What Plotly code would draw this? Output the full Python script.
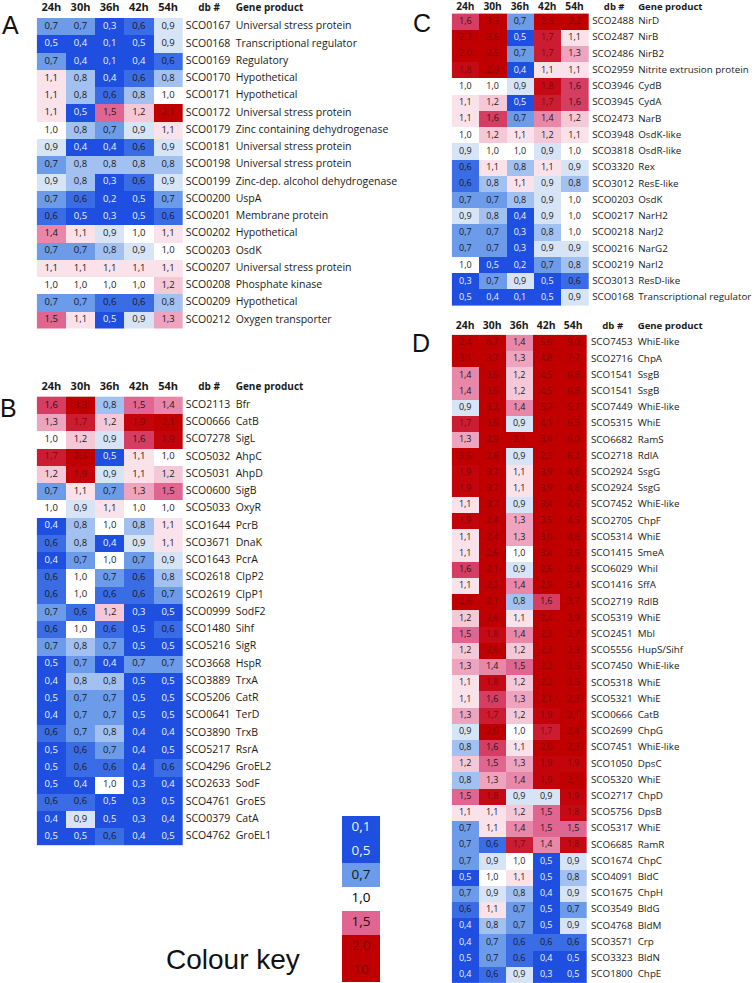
import plotly.graph_objects as go

W, H = 754, 983
HOURS = ["24h", "30h", "36h", "42h", "54h"]

# ---------------- Panel A ----------------
A_ids = ["SCO0167", "SCO0168", "SCO0169", "SCO0170", "SCO0171", "SCO0172", "SCO0179",
         "SCO0181", "SCO0198", "SCO0199", "SCO0200", "SCO0201", "SCO0202", "SCO0203",
         "SCO0207", "SCO0208", "SCO0209", "SCO0212"]
A_products = ["Universal stress protein", "Transcriptional regulator", "Regulatory",
              "Hypothetical", "Hypothetical", "Universal stress protein",
              "Zinc containing dehydrogenase", "Universal stress protein",
              "Universal stress protein", "Zinc-dep. alcohol dehydrogenase", "UspA",
              "Membrane protein", "Hypothetical", "OsdK", "Universal stress protein",
              "Phosphate kinase", "Hypothetical", "Oxygen transporter"]
A_values = [
    [0.7, 0.7, 0.3, 0.6, 0.9],
    [0.5, 0.4, 0.1, 0.5, 0.9],
    [0.7, 0.4, 0.1, 0.4, 0.6],
    [1.1, 0.8, 0.4, 0.6, 0.8],
    [1.1, 0.8, 0.6, 0.8, 1.0],
    [1.1, 0.5, 1.5, 1.2, 2.1],
    [1.0, 0.8, 0.7, 0.9, 1.1],
    [0.9, 0.4, 0.4, 0.6, 0.9],
    [0.7, 0.8, 0.8, 0.8, 0.8],
    [0.9, 0.8, 0.3, 0.6, 0.9],
    [0.7, 0.6, 0.2, 0.5, 0.7],
    [0.6, 0.5, 0.3, 0.5, 0.6],
    [1.4, 1.1, 0.9, 1.0, 1.1],
    [0.7, 0.7, 0.8, 0.9, 1.0],
    [1.1, 1.1, 1.1, 1.1, 1.1],
    [1.0, 1.0, 1.0, 1.0, 1.2],
    [0.7, 0.7, 0.6, 0.6, 0.8],
    [1.5, 1.1, 0.5, 0.9, 1.3],
]

# ---------------- Panel B ----------------
B_ids = ["SCO2113", "SCO0666", "SCO7278", "SCO5032", "SCO5031", "SCO0600", "SCO5033",
         "SCO1644", "SCO3671", "SCO1643", "SCO2618", "SCO2619", "SCO0999", "SCO1480",
         "SCO5216", "SCO3668", "SCO3889", "SCO5206", "SCO0641", "SCO3890", "SCO5217",
         "SCO4296", "SCO2633", "SCO4761", "SCO0379", "SCO4762"]
B_products = ["Bfr", "CatB", "SigL", "AhpC", "AhpD", "SigB", "OxyR", "PcrB", "DnaK",
              "PcrA", "ClpP2", "ClpP1", "SodF2", "Sihf", "SigR", "HspR", "TrxA", "CatR",
              "TerD", "TrxB", "RsrA", "GroEL2", "SodF", "GroES", "CatA", "GroEL1"]
B_values = [
    [1.6, 3.3, 0.8, 1.5, 1.4],
    [1.3, 1.7, 1.2, 1.9, 2.1],
    [1.0, 1.2, 0.9, 1.6, 1.9],
    [1.7, 2.3, 0.5, 1.1, 1.0],
    [1.2, 1.9, 0.9, 1.1, 1.2],
    [0.7, 1.1, 0.7, 1.3, 1.5],
    [1.0, 0.9, 1.1, 1.0, 1.0],
    [0.4, 0.8, 1.0, 0.8, 1.1],
    [0.6, 0.8, 0.4, 0.9, 1.1],
    [0.4, 0.7, 1.0, 0.7, 0.9],
    [0.6, 1.0, 0.7, 0.6, 0.8],
    [0.6, 1.0, 0.6, 0.6, 0.7],
    [0.7, 0.6, 1.2, 0.3, 0.5],
    [0.6, 1.0, 0.6, 0.5, 0.6],
    [0.7, 0.8, 0.7, 0.5, 0.5],
    [0.5, 0.7, 0.4, 0.7, 0.7],
    [0.4, 0.8, 0.8, 0.5, 0.5],
    [0.5, 0.7, 0.7, 0.5, 0.5],
    [0.4, 0.7, 0.7, 0.5, 0.5],
    [0.6, 0.7, 0.8, 0.4, 0.4],
    [0.5, 0.6, 0.7, 0.4, 0.5],
    [0.5, 0.6, 0.6, 0.4, 0.6],
    [0.5, 0.4, 1.0, 0.3, 0.4],
    [0.6, 0.6, 0.5, 0.3, 0.5],
    [0.4, 0.9, 0.5, 0.3, 0.4],
    [0.5, 0.5, 0.6, 0.4, 0.5],
]

# ---------------- Panel C ----------------
C_ids = ["SCO2488", "SCO2487", "SCO2486", "SCO2959", "SCO3946", "SCO3945", "SCO2473",
         "SCO3948", "SCO3818", "SCO3320", "SCO3012", "SCO0203", "SCO0217", "SCO0218",
         "SCO0216", "SCO0219", "SCO3013", "SCO0168"]
C_products = ["NirD", "NirB", "NirB2", "Nitrite extrusion protein", "CydB", "CydA", "NarB",
              "OsdK-like", "OsdR-like", "Rex", "ResE-like", "OsdK", "NarH2", "NarJ2",
              "NarG2", "NarI2", "ResD-like", "Transcriptional regulator"]
C_values = [
    [1.6, 3.3, 0.7, 2.5, 2.2],
    [2.3, 3.6, 0.5, 1.7, 1.1],
    [2.0, 2.5, 0.7, 1.7, 1.3],
    [1.8, 2.9, 0.4, 1.1, 1.1],
    [1.0, 1.0, 0.9, 1.8, 1.6],
    [1.1, 1.2, 0.5, 1.7, 1.6],
    [1.1, 1.6, 0.7, 1.4, 1.2],
    [1.0, 1.2, 1.1, 1.2, 1.1],
    [0.9, 1.0, 1.0, 0.9, 1.0],
    [0.6, 1.1, 0.8, 1.1, 0.9],
    [0.6, 0.8, 1.1, 0.9, 0.8],
    [0.7, 0.7, 0.8, 0.9, 1.0],
    [0.9, 0.8, 0.4, 0.9, 1.0],
    [0.7, 0.7, 0.3, 0.8, 1.0],
    [0.7, 0.7, 0.3, 0.9, 0.9],
    [1.0, 0.5, 0.2, 0.7, 0.8],
    [0.3, 0.7, 0.9, 0.5, 0.6],
    [0.5, 0.4, 0.1, 0.5, 0.9],
]

# ---------------- Panel D ----------------
D_ids = ["SCO7453", "SCO2716", "SCO1541", "SCO1541", "SCO7449", "SCO5315", "SCO6682",
         "SCO2718", "SCO2924", "SCO2924", "SCO7452", "SCO2705", "SCO5314", "SCO1415",
         "SCO6029", "SCO1416", "SCO2719", "SCO5319", "SCO2451", "SCO5556", "SCO7450",
         "SCO5318", "SCO5321", "SCO0666", "SCO2699", "SCO7451", "SCO1050", "SCO5320",
         "SCO2717", "SCO5756", "SCO5317", "SCO6685", "SCO1674", "SCO4091", "SCO1675",
         "SCO3549", "SCO4768", "SCO3571", "SCO3323", "SCO1800"]
D_products = ["WhiE-like", "ChpA", "SsgB", "SsgB", "WhiE-like", "WhiE", "RamS", "RdlA",
              "SsgG", "SsgG", "WhiE-like", "ChpF", "WhiE", "SmeA", "WhiI", "SffA", "RdlB",
              "WhiE", "Mbl", "HupS/Sihf", "WhiE-like", "WhiE", "WhiE", "CatB", "ChpG",
              "WhiE-like", "DpsC", "WhiE", "ChpD", "DpsB", "WhiE", "RamR", "ChpC", "BldC",
              "ChpH", "BldG", "BldM", "Crp", "BldN", "ChpE"]
D_values = [
    [2.4, 6.7, 1.4, 5.9, 9.0],
    [3.1, 3.7, 1.3, 4.8, 7.7],
    [1.4, 3.5, 1.2, 4.5, 6.8],
    [1.4, 3.5, 1.2, 4.5, 6.8],
    [0.9, 3.2, 1.4, 5.7, 5.7],
    [1.7, 3.5, 0.9, 4.1, 6.5],
    [1.3, 2.9, 2.1, 3.4, 6.0],
    [3.6, 2.6, 0.9, 2.3, 6.2],
    [1.9, 3.7, 1.1, 3.9, 4.8],
    [1.9, 3.7, 1.1, 3.9, 4.8],
    [1.1, 3.7, 0.9, 3.4, 4.6],
    [1.9, 2.4, 1.3, 3.5, 4.5],
    [1.1, 2.4, 1.3, 3.0, 4.8],
    [1.1, 2.6, 1.0, 3.4, 3.5],
    [1.6, 2.1, 0.9, 2.6, 3.8],
    [1.1, 2.2, 1.4, 2.9, 3.4],
    [2.6, 2.1, 0.8, 1.6, 3.7],
    [1.2, 2.6, 1.1, 2.4, 2.9],
    [1.5, 1.8, 1.4, 2.3, 2.7],
    [1.2, 2.6, 1.2, 2.3, 2.3],
    [1.3, 1.4, 1.5, 2.2, 2.5],
    [1.1, 1.8, 1.2, 2.2, 2.5],
    [1.1, 1.6, 1.3, 2.1, 2.3],
    [1.3, 1.7, 1.2, 1.9, 2.1],
    [0.9, 2.0, 1.0, 1.7, 2.4],
    [0.8, 1.6, 1.1, 2.0, 2.3],
    [1.2, 1.5, 1.3, 1.9, 1.9],
    [0.8, 1.3, 1.4, 1.9, 2.1],
    [1.5, 1.8, 0.9, 0.9, 1.9],
    [1.1, 1.1, 1.2, 1.5, 1.8],
    [0.7, 1.1, 1.4, 1.5, 1.5],
    [0.7, 0.6, 1.7, 1.4, 1.8],
    [0.7, 0.9, 1.0, 0.5, 0.9],
    [0.5, 1.0, 1.1, 0.5, 0.8],
    [0.7, 0.9, 0.8, 0.4, 0.9],
    [0.6, 1.1, 0.7, 0.5, 0.7],
    [0.4, 0.8, 0.7, 0.5, 0.9],
    [0.4, 0.7, 0.6, 0.6, 0.6],
    [0.5, 0.7, 0.6, 0.4, 0.5],
    [0.4, 0.6, 0.9, 0.3, 0.5],
]

# ---------------- Colour key ----------------
KEY_VALUES = [0.1, 0.5, 0.7, 1.0, 1.5, 2.0, 10]

# ---------------- styling ----------------
FONT = "Open Sans"
ZMAX = 10.0
COLORSCALE = [
    [0.00, "#1e4fe0"], [0.05, "#1e4fe0"], [0.06, "#3a6ce6"], [0.07, "#6c9be9"],
    [0.08, "#a3c1f0"], [0.09, "#d6e4f6"], [0.10, "#ffffff"], [0.11, "#fae2ea"],
    [0.12, "#f5c8d7"], [0.13, "#eea4be"], [0.14, "#e887a8"], [0.15, "#e06590"],
    [0.16, "#d63d62"], [0.17, "#cc1c32"], [0.18, "#c50a16"], [0.20, "#c00000"],
    [1.00, "#c00000"],
]


def fmt(v):
    return str(int(v)) if v >= 10 else f"{v:.1f}".replace(".", ",")


def txt_color(v):
    if v <= 0.5:
        return "#eef2ff"
    if v >= 1.7:
        return "#7a0b0b"
    return "#1a1a1a"


fig = go.Figure()
layout = {}


def axis_names(k):
    return ("x" if k == 1 else f"x{k}", "y" if k == 1 else f"y{k}",
            "xaxis" if k == 1 else f"xaxis{k}", "yaxis" if k == 1 else f"yaxis{k}")


def add_panel(k, ids, products, values, left, top, cw, rh, right_px, cell_fs, lab_fs, head_fs,
              gp_fs, id_off, db_off, prod_off, head_px):
    xa, ya, xk, yk = axis_names(k)
    n = len(ids)
    rows = list(range(n))
    head_y = (head_px - top) / rh - 0.5
    fig.add_trace(go.Heatmap(z=values, x=list(range(5)), y=rows, colorscale=COLORSCALE,
                             zmin=0, zmax=ZMAX, showscale=False, hoverinfo="skip",
                             xaxis=xa, yaxis=ya))
    xs, ys, ts, cs = [], [], [], []
    for r, row in enumerate(values):
        for c, v in enumerate(row):
            xs.append(c); ys.append(r); ts.append(fmt(v)); cs.append(txt_color(v))
    fig.add_trace(go.Scatter(x=xs, y=ys, text=ts, mode="text", cliponaxis=False,
                             textfont=dict(family=FONT, size=cell_fs, color=cs),
                             hoverinfo="skip", showlegend=False, xaxis=xa, yaxis=ya))
    fig.add_trace(go.Scatter(x=[4.5 + id_off / cw] * n, y=rows, text=ids, mode="text",
                             textposition="middle right", cliponaxis=False,
                             textfont=dict(family=FONT, size=lab_fs, color="#1a1a1a"),
                             hoverinfo="skip", showlegend=False, xaxis=xa, yaxis=ya))
    fig.add_trace(go.Scatter(x=[4.5 + prod_off / cw] * n, y=rows, text=products, mode="text",
                             textposition="middle right", cliponaxis=False,
                             textfont=dict(family=FONT, size=lab_fs, color="#1a1a1a"),
                             hoverinfo="skip", showlegend=False, xaxis=xa, yaxis=ya))
    fig.add_trace(go.Scatter(x=list(range(5)), y=[head_y] * 5,
                             text=HOURS, mode="text", cliponaxis=False,
                             textfont=dict(family=FONT, size=head_fs, color="#1a1a1a", weight="bold"),
                             hoverinfo="skip", showlegend=False, xaxis=xa, yaxis=ya))
    fig.add_trace(go.Scatter(x=[4.5 + db_off / cw], y=[head_y], text=["db #"],
                             mode="text", cliponaxis=False,
                             textfont=dict(family=FONT, size=gp_fs, color="#1a1a1a", weight="bold"),
                             hoverinfo="skip", showlegend=False, xaxis=xa, yaxis=ya))
    fig.add_trace(go.Scatter(x=[4.5 + prod_off / cw], y=[head_y], text=["Gene product"],
                             mode="text", textposition="middle right", cliponaxis=False,
                             textfont=dict(family=FONT, size=gp_fs, color="#1a1a1a", weight="bold"),
                             hoverinfo="skip", showlegend=False, xaxis=xa, yaxis=ya))
    # axis spans the cell block plus the label area to the right and header row above
    ext_top = min(top, rh * 1.0)
    top_range = -0.5 - ext_top / rh
    layout[xk] = dict(domain=[left / W, right_px / W],
                      range=[-0.5, -0.5 + (right_px - left) / cw],
                      visible=False, anchor=ya, fixedrange=True)
    layout[yk] = dict(domain=[1 - (top + n * rh) / H, 1 - (top - ext_top) / H],
                      range=[n - 0.5, top_range],
                      visible=False, anchor=xa, fixedrange=True)


add_panel(1, A_ids, A_products, A_values, 36.7, 18.0, 29.2, 17.25, 405, 9.5, 10.5, 11, 10, 3, 26.3, 53, 8.5)
add_panel(2, B_ids, B_products, B_values, 36.7, 396.7, 29.2, 17.25, 330, 9.5, 10.5, 11, 10, 3, 26.3, 53, 387)
add_panel(3, C_ids, C_products, C_values, 451.7, 13.6, 27.3, 16.24, 753, 9, 9.8, 10.2, 9.5, 4, 26, 50, 7.6)
add_panel(4, D_ids, D_products, D_values, 451.7, 334.9, 27.0, 16.2, 753, 9, 9.8, 10.4, 9.6, 4.3, 26, 51, 326.7)

# colour key
xa, ya, xk, yk = axis_names(5)
nk = len(KEY_VALUES)
fig.add_trace(go.Heatmap(z=[[v] for v in KEY_VALUES], x=[0], y=list(range(nk)),
                         colorscale=COLORSCALE, zmin=0, zmax=ZMAX, showscale=False,
                         hoverinfo="skip", xaxis=xa, yaxis=ya))
key_colors = ["#eef2ff", "#eef2ff", "#1a1a1a", "#000000", "#2a0a10", "#7a0b0b", "#7a0b0b"]
fig.add_trace(go.Scatter(x=[0] * nk, y=list(range(nk)), text=[fmt(v) for v in KEY_VALUES],
                         mode="text", textfont=dict(family=FONT, size=13.5, color=key_colors),
                         hoverinfo="skip", showlegend=False, xaxis=xa, yaxis=ya))
layout[xk] = dict(domain=[342 / W, 380 / W], range=[-0.5, 0.5], visible=False, anchor=ya,
                  fixedrange=True)
layout[yk] = dict(domain=[1 - 982 / H, 1 - 816 / H], range=[nk - 0.5, -0.5], visible=False,
                  anchor=xa, fixedrange=True)

annotations = []
for letter, px, py in [("A", 10, 25), ("B", 8.5, 407.7), ("C", 422, 23), ("D", 421, 343)]:
    annotations.append(dict(text=letter, x=px / W, y=1 - py / H, xref="paper", yref="paper",
                            showarrow=False, xanchor="center", yanchor="middle",
                            font=dict(family="Liberation Sans", size=25, color="#111111")))
annotations.append(dict(text="Colour key", x=233 / W, y=1 - 959 / H, xref="paper", yref="paper",
                        showarrow=False, xanchor="center", yanchor="middle",
                        font=dict(family="Liberation Sans", size=28, color="#111111")))

fig.update_layout(width=W, height=H, margin=dict(l=0, r=0, t=0, b=0),
                  paper_bgcolor="white", plot_bgcolor="white", showlegend=False,
                  annotations=annotations, **layout)

fig.write_html("out.html", config={"displayModeBar": False, "staticPlot": True},
               post_script="document.body.style.margin='0';document.body.style.overflow='hidden';")
